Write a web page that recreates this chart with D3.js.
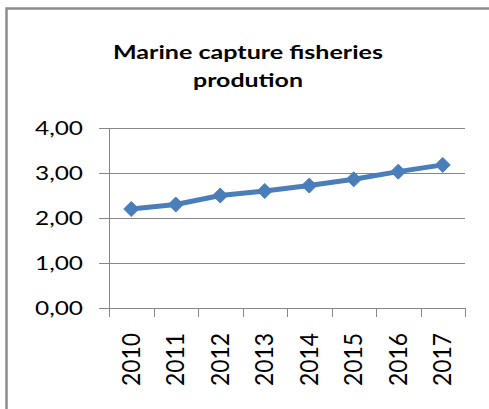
<!DOCTYPE html>
<html>
<head>
<meta charset="utf-8">
<script src="https://cdn.jsdelivr.net/npm/d3@7"></script>
<style>
  body { margin: 0; background: #fff; }
  svg { display: block; }
  text { font-family: Lato, "Open Sans", "Liberation Sans", sans-serif; fill: #000; }
</style>
</head>
<body>
<svg id="chart" width="489" height="409"></svg>
<script>
// chart data
var years = ["2010", "2011", "2012", "2013", "2014", "2015", "2016", "2017"];
var production = [2.20, 2.30, 2.50, 2.60, 2.72, 2.86, 3.03, 3.18];
var yTicks = [0, 1, 2, 3, 4];
var titleLines = ["Marine capture fisheries", "prodution"];

var LINE_COLOR = "#4a7ebb";
var GRID_COLOR = "#878787";

var svg = d3.select("#chart");

// outer frame (runs off the right and bottom of the picture)
svg.append("rect")
  .attr("x", 6.5).attr("y", 8.5)
  .attr("width", 500).attr("height", 420)
  .attr("fill", "none")
  .attr("stroke", "#8c8c8c")
  .attr("stroke-width", 2.5);

// plot area
var plotLeft = 109, plotRight = 465, plotTop = 128, plotBottom = 308;

var xScale = d3.scaleBand()
  .domain(years)
  .range([plotLeft, plotRight]);

var yScale = d3.scaleLinear()
  .domain([0, 4])
  .range([plotBottom, plotTop]);

var fmt = function (v) { return d3.format(".2f")(v).replace(".", ","); };

// title
svg.append("g").selectAll("text")
  .data(titleLines)
  .enter().append("text")
  .attr("x", 248)
  .attr("y", function (d, i) { return 59 + i * 28; })
  .attr("text-anchor", "middle")
  .attr("font-size", 19)
  .attr("font-weight", "bold")
  .attr("textLength", function (d, i) { return i == 0 ? 270 : 110; })
  .attr("lengthAdjust", "spacingAndGlyphs")
  .text(function (d) { return d; });

// gridlines + left ticks
var grid = svg.append("g");
grid.selectAll("line")
  .data(yTicks)
  .enter().append("line")
  .attr("x1", plotLeft - 10).attr("x2", plotRight)
  .attr("y1", function (d) { return Math.round(yScale(d)) + 0.5; })
  .attr("y2", function (d) { return Math.round(yScale(d)) + 0.5; })
  .attr("stroke", GRID_COLOR)
  .attr("stroke-width", 1);

// y labels
svg.append("g").selectAll("text")
  .data(yTicks)
  .enter().append("text")
  .attr("x", 83)
  .attr("y", function (d) { return yScale(d); })
  .attr("dy", "0.36em")
  .attr("text-anchor", "end")
  .attr("font-size", 18.6)
  .attr("textLength", 48)
  .attr("lengthAdjust", "spacingAndGlyphs")
  .text(fmt);

// y axis line
svg.append("line")
  .attr("x1", plotLeft + 0.5).attr("x2", plotLeft + 0.5)
  .attr("y1", plotTop).attr("y2", plotBottom + 9)
  .attr("stroke", GRID_COLOR);

// x ticks at category boundaries
var edges = years.map(function (d) { return xScale(d); }).concat([plotRight]);
svg.append("g").selectAll("line")
  .data(edges)
  .enter().append("line")
  .attr("x1", function (d) { return Math.round(d) + 0.5; })
  .attr("x2", function (d) { return Math.round(d) + 0.5; })
  .attr("y1", plotBottom).attr("y2", plotBottom + 9)
  .attr("stroke", GRID_COLOR);

// x labels, rotated
svg.append("g").selectAll("text")
  .data(years)
  .enter().append("text")
  .attr("transform", function (d) {
    return "translate(" + (xScale(d) + xScale.bandwidth() / 2) + "," + 333 + ") rotate(-90)";
  })
  .attr("dy", "0.35em")
  .attr("text-anchor", "end")
  .attr("font-size", 24.8)
  .attr("textLength", 53)
  .attr("lengthAdjust", "spacingAndGlyphs")
  .text(function (d) { return d; });

// series line
var points = years.map(function (d, i) { return [d, production[i]]; });

var line = d3.line()
  .x(function (d) { return xScale(d[0]) + xScale.bandwidth() / 2; })
  .y(function (d) { return yScale(d[1]); });

svg.append("path")
  .datum(points)
  .attr("d", line)
  .attr("fill", "none")
  .attr("stroke", LINE_COLOR)
  .attr("stroke-width", 5)
  .attr("stroke-linejoin", "round");

// diamond markers
var diamond = function (cx, cy, r) {
  return "M" + cx + "," + (cy - r) + "L" + (cx + r) + "," + cy +
    "L" + cx + "," + (cy + r) + "L" + (cx - r) + "," + cy + "Z";
};

svg.append("g").selectAll("path")
  .data(points)
  .enter().append("path")
  .attr("d", function (d) {
    return diamond(xScale(d[0]) + xScale.bandwidth() / 2, yScale(d[1]), 7.5);
  })
  .attr("fill", LINE_COLOR)
  .attr("stroke", LINE_COLOR)
  .attr("stroke-width", 1);
</script>
</body>
</html>
